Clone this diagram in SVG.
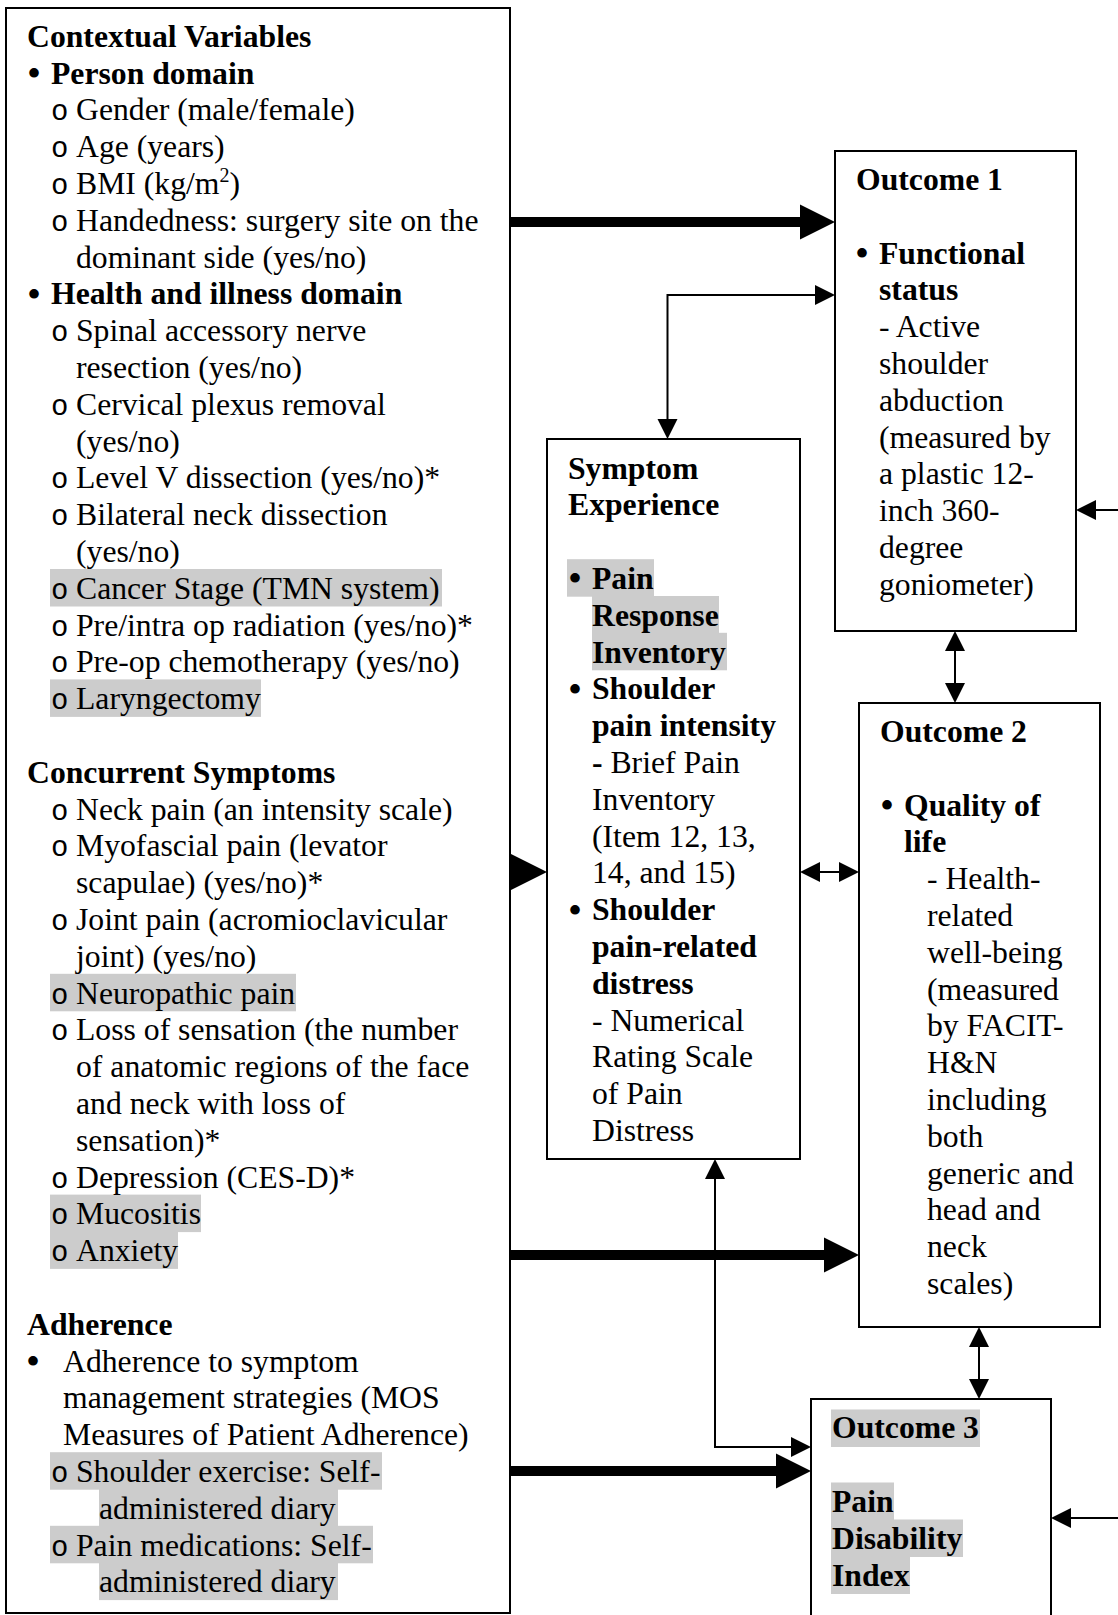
<svg xmlns="http://www.w3.org/2000/svg" width="1118" height="1615" viewBox="0 0 1118 1615">
<style>
text{font-family:"Liberation Serif","Times New Roman",serif;font-size:31.7px;fill:#000}
.b{font-weight:bold}
.o{font-family:"Liberation Mono","Courier New",monospace;font-size:29px}
.u{font-size:40px}
.box{fill:#fff;stroke:#000;stroke-width:2}
.hl{fill:#cccccc}
.thin{fill:none;stroke:#000;stroke-width:2}
.thick{fill:none;stroke:#000;stroke-width:10}
</style>
<defs>
<marker id="mThick" markerUnits="userSpaceOnUse" viewBox="0 0 36 36" markerWidth="36" markerHeight="36" refX="0" refY="18" orient="auto-start-reverse"><path d="M0,0.5 L35,18 L0,35.5 z" fill="#000"/></marker>
<marker id="mThin" markerUnits="userSpaceOnUse" viewBox="0 0 21 21" markerWidth="21" markerHeight="21" refX="0" refY="10.5" orient="auto-start-reverse"><path d="M0,0.5 L20,10.5 L0,20.5 z" fill="#000"/></marker>
</defs>
<rect width="1118" height="1615" fill="#fff"/>

<g id="contextual">
<rect class="box" x="6" y="8" width="504" height="1605"/>
<rect class="hl" x="50" y="569" width="392" height="37.5"/>
<rect class="hl" x="50" y="679.4" width="211" height="37.5"/>
<rect class="hl" x="50" y="973.8" width="246" height="37.5"/>
<rect class="hl" x="50" y="1194.6" width="151" height="37.5"/>
<rect class="hl" x="50" y="1231.4" width="128" height="37.5"/>
<rect class="hl" x="50" y="1452.2" width="332" height="37.5"/>
<rect class="hl" x="99" y="1489" width="239" height="37.5"/>
<rect class="hl" x="50" y="1525.8" width="323" height="37.5"/>
<rect class="hl" x="99" y="1562.6" width="239" height="37.5"/>
<text class="b" x="27" y="46.7">Contextual Variables</text>
<text class="u" x="27" y="87">•</text><text class="b" x="51" y="83.5">Person domain</text>
<text class="o" x="51" y="120.3">o</text><text x="76" y="120.3">Gender (male/female)</text>
<text class="o" x="51" y="157.1">o</text><text x="76" y="157.1">Age (years)</text>
<text class="o" x="51" y="193.9">o</text><text x="76" y="193.9">BMI (kg/m<tspan font-size="20" dy="-12">2</tspan><tspan dy="12">)</tspan></text>
<text class="o" x="51" y="230.7">o</text><text x="76" y="230.7">Handedness: surgery site on the</text>
<text x="76" y="267.5">dominant side (yes/no)</text>
<text class="u" x="27" y="307.8">•</text><text class="b" x="51" y="304.3">Health and illness domain</text>
<text class="o" x="51" y="341.1">o</text><text x="76" y="341.1">Spinal accessory nerve</text>
<text x="76" y="377.9">resection (yes/no)</text>
<text class="o" x="51" y="414.7">o</text><text x="76" y="414.7">Cervical plexus removal</text>
<text x="76" y="451.5">(yes/no)</text>
<text class="o" x="51" y="488.3">o</text><text x="76" y="488.3">Level V dissection (yes/no)*</text>
<text class="o" x="51" y="525.1">o</text><text x="76" y="525.1">Bilateral neck dissection</text>
<text x="76" y="561.9">(yes/no)</text>
<text class="o" x="51" y="598.7">o</text><text x="76" y="598.7">Cancer Stage (TMN system)</text>
<text class="o" x="51" y="635.5">o</text><text x="76" y="635.5">Pre/intra op radiation (yes/no)*</text>
<text class="o" x="51" y="672.3">o</text><text x="76" y="672.3">Pre-op chemotherapy (yes/no)</text>
<text class="o" x="51" y="709.1">o</text><text x="76" y="709.1">Laryngectomy</text>
<text class="b" x="27" y="782.7">Concurrent Symptoms</text>
<text class="o" x="51" y="819.5">o</text><text x="76" y="819.5">Neck pain (an intensity scale)</text>
<text class="o" x="51" y="856.3">o</text><text x="76" y="856.3">Myofascial pain (levator</text>
<text x="76" y="893.1">scapulae) (yes/no)*</text>
<text class="o" x="51" y="929.9">o</text><text x="76" y="929.9">Joint pain (acromioclavicular</text>
<text x="76" y="966.7">joint) (yes/no)</text>
<text class="o" x="51" y="1003.5">o</text><text x="76" y="1003.5">Neuropathic pain</text>
<text class="o" x="51" y="1040.3">o</text><text x="76" y="1040.3">Loss of sensation (the number</text>
<text x="76" y="1077.1">of anatomic regions of the face</text>
<text x="76" y="1113.9">and neck with loss of</text>
<text x="76" y="1150.7">sensation)*</text>
<text class="o" x="51" y="1187.5">o</text><text x="76" y="1187.5">Depression (CES-D)*</text>
<text class="o" x="51" y="1224.3">o</text><text x="76" y="1224.3">Mucositis</text>
<text class="o" x="51" y="1261.1">o</text><text x="76" y="1261.1">Anxiety</text>
<text class="b" x="27" y="1334.7">Adherence</text>
<text class="u" x="26" y="1375">•</text><text x="63" y="1371.5">Adherence to symptom</text>
<text x="63" y="1408.3">management strategies (MOS</text>
<text x="63" y="1445.1">Measures of Patient Adherence)</text>
<text class="o" x="51" y="1481.9">o</text><text x="76" y="1481.9">Shoulder exercise: Self-</text>
<text x="99" y="1518.7">administered diary</text>
<text class="o" x="51" y="1555.5">o</text><text x="76" y="1555.5">Pain medications: Self-</text>
<text x="99" y="1592.3">administered diary</text>
</g>

<g id="outcome1">
<rect class="box" x="835" y="151" width="241" height="480"/>
<text class="b" x="856" y="190">Outcome 1</text>
<text class="u" x="855" y="267">•</text><text class="b" x="879" y="263.6">Functional</text>
<text class="b" x="879" y="300.4">status</text>
<text x="879" y="337.2">- Active</text>
<text x="879" y="374">shoulder</text>
<text x="879" y="410.8">abduction</text>
<text x="879" y="447.6">(measured by</text>
<text x="879" y="484.4">a plastic 12-</text>
<text x="879" y="521.2">inch 360-</text>
<text x="879" y="558">degree</text>
<text x="879" y="594.8">goniometer)</text>
</g>

<g id="symptom">
<rect class="box" x="547" y="439" width="253" height="720"/>
<rect class="hl" x="567" y="559.2" width="87" height="37.5"/>
<rect class="hl" x="592" y="596" width="127" height="37.5"/>
<rect class="hl" x="592" y="632.8" width="135" height="37.5"/>
<text class="b" x="568" y="478.5">Symptom</text>
<text class="b" x="568" y="515.3">Experience</text>
<text class="u" x="568" y="592.4">•</text><text class="b" x="592" y="588.9">Pain</text>
<text class="b" x="592" y="625.7">Response</text>
<text class="b" x="592" y="662.5">Inventory</text>
<text class="u" x="568" y="702.8">•</text><text class="b" x="592" y="699.3">Shoulder</text>
<text class="b" x="592" y="736.1">pain intensity</text>
<text x="592" y="772.9"><tspan class="b">-</tspan> Brief Pain</text>
<text x="592" y="809.7">Inventory</text>
<text x="592" y="846.5">(Item 12, 13,</text>
<text x="592" y="883.3">14, and 15)</text>
<text class="u" x="568" y="923.6">•</text><text class="b" x="592" y="920.1">Shoulder</text>
<text class="b" x="592" y="956.9">pain-related</text>
<text class="b" x="592" y="993.7">distress</text>
<text x="592" y="1030.5">- Numerical</text>
<text x="592" y="1067.3">Rating Scale</text>
<text x="592" y="1104.1">of Pain</text>
<text x="592" y="1140.9">Distress</text>
</g>

<g id="outcome2">
<rect class="box" x="859" y="703" width="241" height="624"/>
<text class="b" x="880" y="742">Outcome 2</text>
<text class="u" x="880" y="819.1">•</text><text class="b" x="904" y="815.6">Quality of</text>
<text class="b" x="904" y="852.4">life</text>
<text x="927" y="889.2">- Health-</text>
<text x="927" y="926">related</text>
<text x="927" y="962.8">well-being</text>
<text x="927" y="999.6">(measured</text>
<text x="927" y="1036.4">by FACIT-</text>
<text x="927" y="1073.2">H&amp;N</text>
<text x="927" y="1110">including</text>
<text x="927" y="1146.8">both</text>
<text x="927" y="1183.6">generic and</text>
<text x="927" y="1220.4">head and</text>
<text x="927" y="1257.2">neck</text>
<text x="927" y="1294">scales)</text>
</g>

<g id="outcome3">
<rect class="box" x="811" y="1399" width="240" height="230"/>
<rect class="hl" x="831" y="1409.5" width="149" height="37.5"/>
<rect class="hl" x="831" y="1482.5" width="63" height="37.5"/>
<rect class="hl" x="831" y="1519.5" width="132" height="37.5"/>
<rect class="hl" x="831" y="1556.5" width="79" height="37.5"/>
<text class="b" x="832" y="1438">Outcome 3</text>
<text class="b" x="832" y="1512">Pain</text>
<text class="b" x="832" y="1548.8">Disability</text>
<text class="b" x="832" y="1585.6">Index</text>
</g>

<g id="connectors">
<path class="thick" d="M511,222 H800" marker-end="url(#mThick)"/>
<polygon points="511,854 547,872 511,890" fill="#000"/>
<path class="thick" d="M511,1255 H824" marker-end="url(#mThick)"/>
<path class="thick" d="M511,1471 H776" marker-end="url(#mThick)"/>
<path class="thin" d="M667.5,419 V295 H815" marker-start="url(#mThin)" marker-end="url(#mThin)"/>
<path class="thin" d="M820,872 H839" marker-start="url(#mThin)" marker-end="url(#mThin)"/>
<path class="thin" d="M955,651 V683" marker-start="url(#mThin)" marker-end="url(#mThin)"/>
<path class="thin" d="M979,1347 V1379" marker-start="url(#mThin)" marker-end="url(#mThin)"/>
<path class="thin" d="M715,1179 V1447 H791" marker-start="url(#mThin)" marker-end="url(#mThin)"/>
<path class="thin" d="M1120,510 H1096" marker-end="url(#mThin)"/>
<path class="thin" d="M1120,1518 H1071" marker-end="url(#mThin)"/>
</g>
</svg>
